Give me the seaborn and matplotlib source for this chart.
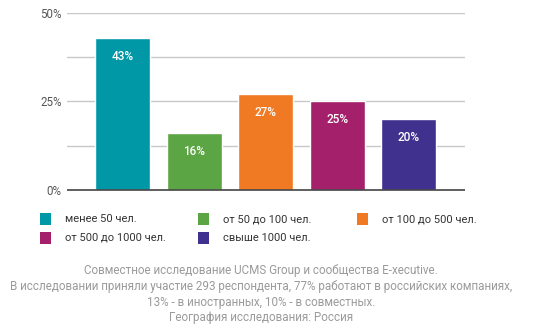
import matplotlib
matplotlib.use("Agg")
import matplotlib.pyplot as plt
from matplotlib.patches import Rectangle
import seaborn as sns
import pandas as pd

categories = ["менее 50 чел.", "от 50 до 100 чел.", "от 100 до 500 чел.",
              "от 500 до 1000 чел.", "свыше 1000 чел."]
values = [43, 16, 27, 25, 20]
colors = ["#0097a7", "#5ba544", "#f07923", "#a4206a", "#40318f"]
ytick_values = [0, 12.5, 25, 37.5, 50]
ytick_labels = ["0%", "", "25%", "", "50%"]
footnote = ("Совместное исследование UCMS Group и сообщества E-xecutive.\n"
            "В исследовании приняли участие 293 респондента, 77% работают в российских компаниях,\n"
            "13% - в иностранных, 10% - в совместных.\n"
            "География исследования: Россия")

sns.set_theme(style="white")
plt.rcParams["font.family"] = ["Roboto", "DejaVu Sans"]

df = pd.DataFrame({"cat": categories, "val": values})

fig = plt.figure(figsize=(5.4, 3.3), dpi=100)
ax = fig.add_axes([67/540, 1 - 192/330, (465-67)/540, (192-13)/330])

sns.barplot(data=df, x="cat", y="val", hue="cat", palette=colors, order=categories,
            hue_order=categories, legend=False, width=0.77, saturation=1, ax=ax, zorder=2)

ax.set_xlim(-0.78, 4.79)
ax.set_ylim(-0.6, 50)
ax.set_yticks(ytick_values)
ax.set_yticklabels(ytick_labels, color="#555555", fontsize=8.3)
ax.tick_params(axis="y", length=0, pad=4)
ax.set_xticks([])
ax.set_xlabel("")
ax.set_ylabel("")
for s in ax.spines.values():
    s.set_visible(False)
for yv in ytick_values[1:]:
    ax.axhline(yv, color="#c8c8c8", lw=1, zorder=1)
ax.axhline(0, color="#444444", lw=1.2, zorder=3)

for cont in ax.containers:
    ax.bar_label(cont, labels=[f"{v:.0f}%" for v in cont.datavalues], padding=-18,
                 color="white", fontsize=8.5, fontweight="medium")

# legend (manual, row-wise)
col_x = [40, 198, 357]
row_y = [219, 238]
for i, (cat, col) in enumerate(zip(categories, colors)):
    r, c = divmod(i, 3)
    x0 = col_x[c]
    yc = row_y[r]
    fig.add_artist(Rectangle((x0/540, 1 - (yc+6)/330), 11/540, 12/330,
                             transform=fig.transFigure, color=col, lw=0))
    fig.text((x0+25)/540, 1 - yc/330, cat, fontsize=8, color="#333333",
             va="center", ha="left")

fig.text(261/540, 1 - 264/330, footnote, fontsize=8.4, color="#9a9a9a",
         ha="center", va="top", linespacing=1.28)

fig.savefig("out.png", dpi=100)
